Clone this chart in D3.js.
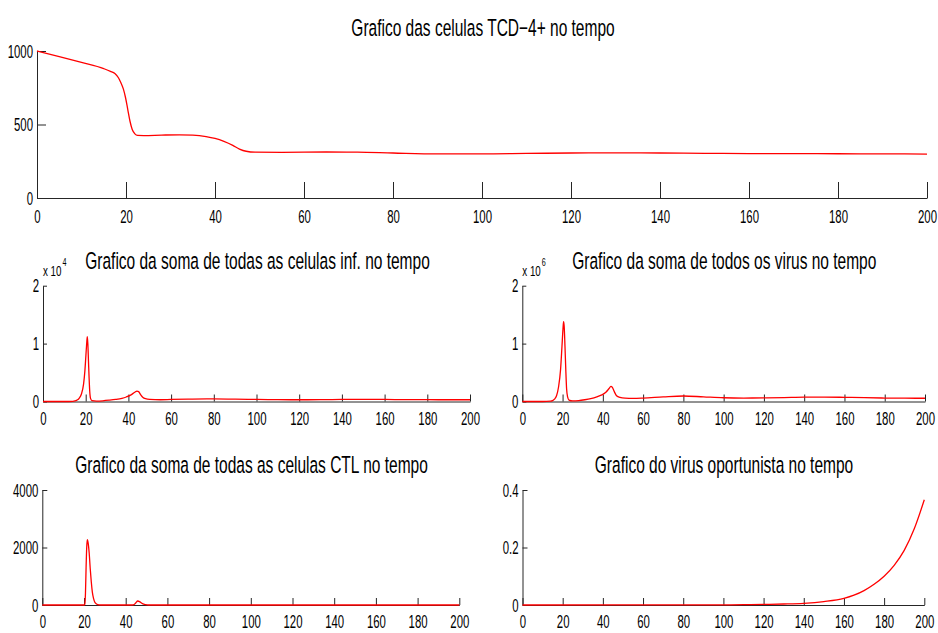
<!DOCTYPE html>
<html>
<head>
<meta charset="utf-8">
<script src="https://cdn.jsdelivr.net/npm/d3@7"></script>
<style>
  html, body { margin: 0; padding: 0; background: #fff; }
  svg { display: block; font-family: "Liberation Sans", Arial, sans-serif; }
</style>
</head>
<body>
<svg id="chart" width="938" height="633"></svg>
<script>
// ---------------- DATA ----------------
const xTicks = [0, 20, 40, 60, 80, 100, 120, 140, 160, 180, 200];

const titles = [
  "Grafico das celulas TCD\u22124+ no tempo",
  "Grafico da soma de todas as celulas inf. no tempo",
  "Grafico da soma de todos os virus no tempo",
  "Grafico da soma de todas as celulas CTL no tempo",
  "Grafico do virus oportunista no tempo"
];

// TCD-4+ cells
const tcdTime   = [0, 5, 10, 15, 16.5, 17.5, 18.3, 18.8, 19.4, 19.9, 20.4, 20.9, 21.4, 22, 22.6, 24, 28, 32, 35, 38, 40, 42, 44, 45.5, 47, 49, 55, 65, 72, 80, 90, 100, 110, 120, 130, 140, 150, 160, 170, 180, 190, 200];
const tcdValues = [1000, 962, 922, 880, 862, 847, 818, 788, 742, 682, 602, 522, 466, 436, 426, 425, 428, 430, 428, 418, 405, 385, 358, 333, 318, 312, 311, 313, 312, 306, 300, 300, 303, 306, 307, 306, 304, 302, 302, 301, 300, 299];
const tcdTicks  = [0, 500, 1000];

// sum of infected cells (x 10^4)
const infTime   = [0, 10, 14, 15, 16, 17, 18, 19, 19.6, 20.1, 20.5, 20.75, 21, 21.3, 21.6, 21.9, 22.3, 23, 25, 28, 31, 34, 37, 39, 41, 43, 44, 44.8, 45.7, 46.7, 48, 50, 55, 60, 70, 80, 90, 100, 110, 120, 130, 140, 150, 160, 170, 180, 190, 200];
const infValues = [0, 0, 0.003, 0.01, 0.025, 0.06, 0.13, 0.3, 0.52, 0.8, 1.02, 1.12, 1.0, 0.7, 0.4, 0.17, 0.05, 0.015, 0.008, 0.012, 0.022, 0.035, 0.055, 0.078, 0.11, 0.16, 0.18, 0.17, 0.12, 0.075, 0.048, 0.035, 0.03, 0.035, 0.042, 0.045, 0.04, 0.035, 0.032, 0.03, 0.032, 0.035, 0.036, 0.035, 0.033, 0.031, 0.03, 0.03];
const infTicks  = [0, 1, 2];

// sum of virus (x 10^6)
const virTime   = [0, 10, 14, 15, 16, 17, 18, 19, 19.7, 20.2, 20.5, 20.8, 21.2, 21.6, 22, 22.5, 23.2, 25, 28, 31, 34, 37, 39.5, 41.5, 43, 44, 44.8, 45.7, 46.8, 48.5, 51, 55, 60, 70, 80, 90, 100, 110, 120, 130, 140, 150, 160, 170, 180, 190, 200];
const virValues = [0, 0, 0.005, 0.015, 0.04, 0.1, 0.25, 0.55, 0.95, 1.25, 1.38, 1.3, 0.95, 0.55, 0.22, 0.08, 0.025, 0.01, 0.015, 0.03, 0.05, 0.08, 0.115, 0.16, 0.22, 0.26, 0.24, 0.17, 0.1, 0.07, 0.058, 0.055, 0.06, 0.08, 0.095, 0.08, 0.065, 0.06, 0.062, 0.068, 0.075, 0.076, 0.072, 0.066, 0.06, 0.057, 0.056];
const virTicks  = [0, 1, 2];

// sum of CTL cells
const ctlTime   = [0, 20, 20.4, 20.7, 21.0, 21.3, 21.6, 22.0, 22.5, 23.0, 23.5, 24.0, 24.6, 25.3, 26.5, 28, 43, 44, 44.8, 45.8, 46.8, 48, 49.5, 51, 200];
const ctlValues = [0, 0, 30, 400, 1300, 2000, 2270, 2150, 1800, 1250, 800, 450, 220, 80, 15, 0, 0, 10, 70, 140, 110, 50, 15, 0, 0];
const ctlTicks  = [0, 2000, 4000];

// opportunistic virus
const opoTime   = [0, 100, 110, 120, 130, 140, 150, 160, 165, 170, 175, 180, 185, 190, 195, 200];
const opoValues = [0, 0.0005, 0.001, 0.002, 0.0035, 0.006, 0.012, 0.023, 0.034, 0.05, 0.072, 0.1, 0.138, 0.19, 0.265, 0.366];
const opoTicks  = [0, 0.2, 0.4];

// ---------------- DRAWING ----------------
const svg = d3.select("#chart");
const AXIS = "#262626";

function label(g, x, y, s, size, anchor, sx) {
  return g.append("text")
    .attr("transform", `translate(${x},${y}) scale(${sx},1)`)
    .attr("text-anchor", anchor)
    .attr("fill", "#000")
    .style("font-size", size + "px")
    .text(s);
}

function panel(p) {
  const x = d3.scaleLinear().domain([0, 200]).range([p.x0, p.x1]);
  const y = d3.scaleLinear().domain([0, p.yMax]).range([p.y0, p.y1]);
  const g = svg.append("g");

  // x axis
  const xa = g.append("g").attr("transform", `translate(0,${p.y0})`)
    .call(d3.axisBottom(x).tickValues(xTicks).tickSizeInner(-p.xTick).tickSizeOuter(0).tickPadding(p.xPad).tickFormat(d3.format("d")));
  // y axis
  const ya = g.append("g").attr("transform", `translate(${p.x0},0)`)
    .call(d3.axisLeft(y).tickValues(p.yTicks).tickSizeInner(-p.yTick).tickSizeOuter(0).tickPadding(4)
      .tickFormat(d => p.fmt(d)));

  [xa, ya].forEach(a => {
    a.attr("font-family", null).attr("font-size", null);
    a.select(".domain").attr("stroke", AXIS).attr("stroke-width", 1);
    a.selectAll(".tick line").attr("stroke", AXIS).attr("stroke-width", 1);
    a.selectAll(".tick text").attr("fill", "#000").style("font-size", "19px");
  });
  xa.selectAll(".tick text").attr("transform", "scale(0.6,1)");
  ya.selectAll(".tick text").attr("transform", "scale(0.6,1)").attr("x", -4 / 0.6);

  // line
  const line = d3.line().x((d, i) => x(p.t[i])).y(d => y(d)).curve(d3.curveMonotoneX);
  g.append("path").datum(p.v)
    .attr("d", line)
    .attr("fill", "none")
    .attr("stroke", "#ff0000")
    .attr("stroke-width", 1.3);

  // title
  label(g, p.tx, p.ty, p.title, 23.5, "middle", 0.66);

  // exponent
  if (p.exp) {
    label(g, p.x0, p.y1 - 10, "x 10", 14, "start", 0.7);
    label(g, p.x0 + 19.5, p.y1 - 19.5, p.exp, 10, "start", 0.72);
  }
}

const id = d => d3.format("d")(d);

panel({ t: tcdTime, v: tcdValues, yMax: 1000, yTicks: tcdTicks, fmt: id,
  x0: 37, x1: 927, y0: 198, y1: 51, xTick: 16, yTick: 9, xPad: 12,
  title: titles[0], tx: 483, ty: 36 });

panel({ t: infTime, v: infValues, yMax: 2, yTicks: infTicks, fmt: id,
  x0: 43, x1: 470, y0: 401.5, y1: 285.7, xTick: 7, yTick: 4, xPad: 10,
  title: titles[1], tx: 257.5, ty: 269, exp: "4" });

panel({ t: virTime, v: virValues, yMax: 2, yTicks: virTicks, fmt: id,
  x0: 522.3, x1: 925, y0: 401.5, y1: 285.7, xTick: 7, yTick: 4, xPad: 10,
  title: titles[2], tx: 724.3, ty: 269, exp: "6" });

panel({ t: ctlTime, v: ctlValues, yMax: 4000, yTicks: ctlTicks, fmt: id,
  x0: 42.3, x1: 459.3, y0: 605, y1: 490, xTick: 7, yTick: 5, xPad: 10,
  title: titles[3], tx: 251.5, ty: 472.5 });

panel({ t: opoTime, v: opoValues, yMax: 0.4, yTicks: opoTicks, fmt: d => d === 0 ? "0" : d3.format(".1f")(d),
  x0: 522.5, x1: 924.3, y0: 605, y1: 490, xTick: 7, yTick: 5, xPad: 10,
  title: titles[4], tx: 724, ty: 472.5 });
</script>
</body>
</html>
